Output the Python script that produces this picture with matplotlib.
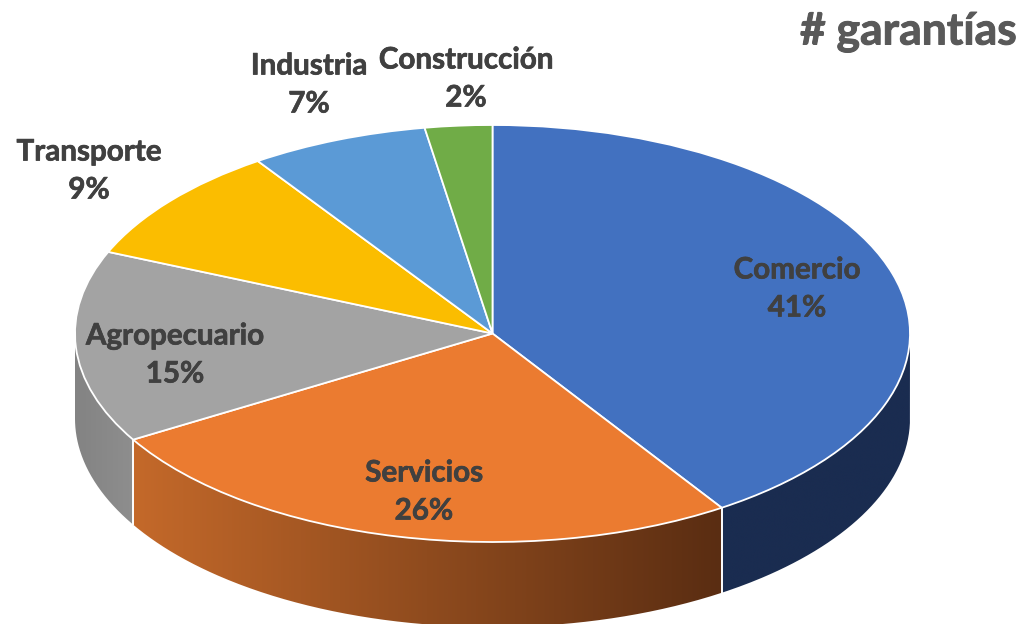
import numpy as np
import matplotlib
matplotlib.use("Agg")
import matplotlib.pyplot as plt
import matplotlib.patheffects as pe
from matplotlib.patches import PathPatch
from matplotlib.path import Path
from matplotlib.colors import LinearSegmentedColormap

categories = ["Comercio", "Servicios", "Agropecuario", "Transporte", "Industria", "Construcción"]
shares = [40.75, 25.75, 14.9, 9.1, 6.9, 2.6]
percent_labels = ["41%", "26%", "15%", "9%", "7%", "2%"]

colors = ["#4271C0", "#EB7B30", "#A3A3A3", "#FBBD00", "#5B9AD6", "#70AC47"]
wall_ramps = {
    0: ("#1A2C50", "#1A2C50"),
    1: ("#C4692A", "#5A2D12"),
    2: ("#838383", "#8E8E8E"),
}
label_px = [(797, 287), (424, 490), (175, 353), (89, 169), (309, 83), (466, 77)]

W, H = 1023, 624
CX, CY, RX, RY, DEPTH = 492.5, 333.5, 417.5, 208.5, 85.0

plt.rcParams["font.family"] = ["Lato", "DejaVu Sans"]
fig = plt.figure(figsize=(W / 100, H / 100), dpi=100)
ax = fig.add_axes([0, 0, 1, 1])

wedges, _ = ax.pie(shares, colors=colors, startangle=90, counterclock=False, radius=1,
                   wedgeprops=dict(edgecolor="white", linewidth=1.3, zorder=3))

xlim = ((0 - CX) / RX, (W - CX) / RX)
ylim = ((CY - H) / RY, CY / RY)
d = DEPTH / RY

# side walls, derived from the shares
fr = np.cumsum([0] + shares) / sum(shares)
angles = 90 - 360 * fr
for i in range(len(shares)):
    a0, a1 = angles[i], angles[i + 1]       # clockwise: a0 > a1
    grid = np.linspace(a1, a0, 300)
    # the lower half of the ellipse is visible: sin(theta) < 0
    keep = grid[np.sin(np.radians(grid)) <= 0]
    if keep.size < 2:
        continue
    x = np.cos(np.radians(keep))
    y = np.sin(np.radians(keep))
    verts = np.vstack([np.c_[x, y], np.c_[x[::-1], y[::-1] - d], [[x[0], y[0]]]])
    path = Path(verts)
    c0, c1 = wall_ramps[i]
    cmap = LinearSegmentedColormap.from_list("w", [c0, c1])
    grad = np.linspace(0, 1, 512).reshape(1, -1)
    im = ax.imshow(grad, cmap=cmap, extent=(x.min(), x.max(), y.min() - d, y.max()),
                   aspect="auto", zorder=1, interpolation="bilinear")
    patch = PathPatch(path, transform=ax.transData, facecolor="none", edgecolor="none")
    ax.add_patch(patch)
    im.set_clip_path(patch)
    # thin white seam on the front corners
    for ang in (a0, a1):
        if np.sin(np.radians(ang)) < 0:
            px = np.cos(np.radians(ang))
            py = np.sin(np.radians(ang))
            ax.plot([px, px], [py, py - d], color="white", lw=1.2, zorder=2,
                    solid_capstyle="butt")

ax.set_aspect("auto")
ax.set_xlim(*xlim)
ax.set_ylim(*ylim)
ax.axis("off")

to_fig = lambda p: (p[0] / W, 1 - p[1] / H)
def heavier(color, w):
    return [pe.withStroke(linewidth=w, foreground=color)]

for name, pct, pos in zip(categories, percent_labels, label_px):
    fx, fy = to_fig((pos[0], pos[1] + 1.5))
    for s, off in ((name, 19), (pct, -19)):
        ax.text(fx, fy + off / H, s, transform=fig.transFigure, ha="center", va="center",
                fontsize=21.3, fontweight="bold", color="#404040", zorder=5,
                path_effects=heavier("#404040", 0.5))

fig.text(1017 / W, 1 - 32 / H, "# garantías", ha="right", va="center",
         fontsize=32, fontweight="bold", color="#595959",
         path_effects=heavier("#595959", 0.7))

fig.savefig("out.png", dpi=100, facecolor="white")
